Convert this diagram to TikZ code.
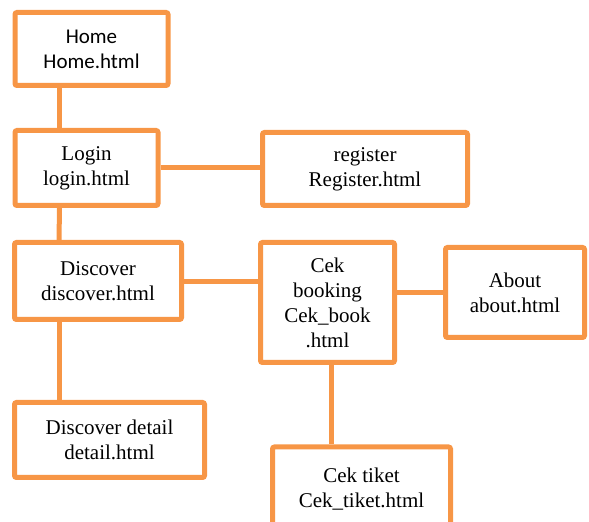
\documentclass[tikz,border=0pt]{standalone}
\usepackage{fontspec}
\setmainfont{Liberation Serif}
\newfontfamily\calibrifont{Carlito}
\usetikzlibrary{calc}
\definecolor{boxorange}{HTML}{F79646}

\begin{document}
\begin{tikzpicture}[
  x=0.5pt, y=-0.5pt,
  font=\fontsize{10.5}{12.5}\selectfont,
  page/.style={draw=boxorange, line width=2.5pt, fill=white, rounded corners=1pt, align=center, inner sep=0pt},
  link/.style={draw=boxorange, line width=2.5pt}
]
\useasboundingbox (0,0) rectangle (589,522);
\clip (0,0) rectangle (589,522);
\node[page, minimum width=76.5pt, minimum height=36.5pt, font=\calibrifont\fontsize{10.5}{12.5}\selectfont] (home) at (91.5,49) {Home\\Home.html};
\node[page, minimum width=71.5pt, minimum height=37.5pt] (login) at (86.5,168) {Login\\login.html};
\node[page, minimum width=102.5pt, minimum height=36.5pt] (register) at (365,169) {register\\Register.html};
\node[page, minimum width=83.5pt, minimum height=38.5pt] (discover) at (98,281) {Discover\\discover.html};
\node[page, minimum width=67pt, minimum height=60pt] (cekbook) at (327.5,302.5) {Cek\\booking\\Cek\_book\\.html};
\node[page, minimum width=69.5pt, minimum height=45pt] (about) at (515,292.5) {About\\about.html};
\node[page, minimum width=95pt, minimum height=37.5pt] (detail) at (109.5,440) {Discover detail\\detail.html};
\node[page, minimum width=89pt, minimum height=42pt] (cektiket) at (361.5,489) {Cek tiket\\Cek\_tiket.html};

\draw[link] ($(home.south west)+(47,0)$) -- ($(login.north west)+(47,0)$);
\draw[link] ($(login.south west)+(47,0)$) -- ($(discover.north west)+(47,0)$);
\draw[link] ($(discover.south west)+(47,0)$) -- ($(detail.north west)+(47,0)$);
\draw[link] (login.east) -- (login.east -| register.west);
\draw[link] ($(discover.east)+(0,1)$) -- ($(discover.east -| cekbook.west)+(0,1)$);
\draw[link] (cekbook.east |- about.west) -- (about.west);
\draw[link] ($(cekbook.south)+(4,0)$) -- ($(cekbook.south |- cektiket.north)+(4,0)$);
\end{tikzpicture}
\end{document}
